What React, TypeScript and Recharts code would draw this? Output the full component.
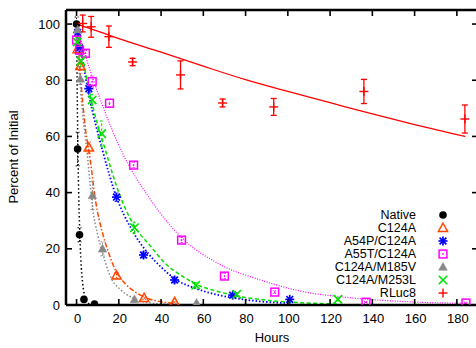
import React from 'react';
import { ComposedChart, Line, Scatter, XAxis, YAxis, ErrorBar, ReferenceLine } from 'recharts';

const FONT = '"Liberation Sans", Arial, Helvetica, sans-serif';

const xTicks = [0, 20, 40, 60, 80, 100, 120, 140, 160, 180];
const yTicks = [0, 20, 40, 60, 80, 100];

const legendNames = ['Native', 'C124A', 'A54P/C124A', 'A55T/C124A', 'C124A/M185V', 'C124A/M253L', 'RLuc8'];

// measured points
const nativeHours = [0, 0.5, 1.4, 3.5, 8.5];
const nativePct = [100, 55.5, 25, 2, 0.3];
const nativeErr = [2.5, 6, 2.5, 0.5, 0.3];

const c124aHours = [0.5, 1.8, 5.8, 18.9, 32, 46.4];
const c124aPct = [91, 85, 56, 10.5, 2.5, 1];
const c124aErr = [1.5, 1.5, 2, 1, 0.5, 0.3];

const a54pHours = [0.5, 1.4, 5.8, 18.9, 31.7, 46.4, 73.9, 100.9];
const a54pPct = [97, 91.5, 77, 38.4, 17.8, 8.9, 3.5, 2];
const a54pErr = [1.5, 1.5, 1.5, 1.5, 1, 1, 0.5, 0.5];

const a55tHours = [0, 1.4, 4.2, 7.4, 15.6, 27, 49.7, 70, 93.8, 137, 184.3];
const a55tPct = [94.3, 90.7, 89.6, 79.5, 71.8, 49.8, 23.1, 10.3, 4.6, 1, 0.7];
const a55tErr = [1.5, 1.5, 1, 2, 1.5, 1, 1, 1, 0.5, 0.3, 0.3];

const m185vHours = [0.5, 1.8, 7.5, 12.3, 27.4, 56.8];
const m185vPct = [98, 80.5, 39, 20, 2, 0.7];
const m185vErr = [1.5, 2, 5, 2.5, 0.5, 0.3];

const m253lHours = [0.3, 2, 7.4, 11.9, 27.4, 56.4, 75.8, 123.7];
const m253lPct = [93.6, 86.8, 73, 61, 27.5, 7, 3.8, 2];
const m253lErr = [1.5, 2, 2, 4.5, 2, 1, 0.5, 0.5];

const rlucHours = [2.9, 6.9, 15.3, 26.5, 49.2, 69.1, 93.3, 136, 183.8];
const rlucPct = [100.2, 99, 95.5, 86.5, 81.9, 71.9, 70.5, 76, 66.2];
const rlucErr = [3, 3.7, 3.8, 1.3, 5, 1.4, 3, 4.3, 5];

// fitted curves
const nativeFitHours = [0, 0.5, 1, 1.5, 2, 2.9, 3.7, 5, 6.5, 8.5];
const nativeFitPct = [100, 63, 40, 26, 16.5, 7.6, 3.6, 1.1, 0.3, 0.05];

const c124aFitHours = [0, 2, 4, 6.4, 9, 12.3, 15, 18.8, 23, 28.2, 33, 37.7, 46.4];
const c124aFitPct = [100, 80, 64, 52, 37, 25.6, 19, 11.8, 7.6, 4.4, 2.5, 1.5, 0.6];

const a54pFitHours = [0, 5.8, 12.3, 18.9, 26, 34.5, 40, 47.3, 56, 65, 73.9, 86.7, 101];
const a54pFitPct = [100, 75, 55, 38.4, 27, 17.8, 13.5, 8.9, 6, 3.9, 2.6, 1.3, 0.65];

const a55tFitHours = [0, 3.7, 12.3, 21.8, 34.5, 49.7, 67.7, 86.7, 105, 129.3, 153, 184.3];
const a55tFitPct = [100, 90, 71, 54, 38, 24, 14.5, 9, 5.1, 2.6, 1.3, 0.6];

const m185vFitHours = [0, 2, 5.3, 7.7, 10, 12.4, 15, 17.2, 21, 26.6, 32, 40, 56.8];
const m185vFitPct = [100, 76, 52, 34, 25, 18.5, 12, 8.5, 5.3, 2.5, 1.1, 0.4, 0.05];

const m253lFitHours = [0, 6, 13.7, 20, 27.4, 34.5, 42, 50, 56.8, 65, 73.9, 90, 105, 124];
const m253lFitPct = [100, 76, 55, 40, 28, 21.4, 14.8, 10.3, 7.3, 5.2, 3.5, 1.7, 0.85, 0.35];

const rlucFitHours = [0, 10, 20, 40, 60, 80, 100, 120, 140, 160, 184];
const rlucFitPct = [100, 97.5, 94.8, 90, 85, 80.2, 76, 72, 68, 64.2, 60];

type Kind = 'circle' | 'triOpen' | 'star' | 'square' | 'triFill' | 'cross' | 'plus';

const toPts = (h: number[], p: number[], e?: number[]) =>
  h.map((x, i) => ({ x, y: p[i], e: e ? e[i] : 0 }));

const series = [
  { name: legendNames[0], kind: 'circle' as Kind, color: '#000000', pts: toPts(nativeHours, nativePct, nativeErr), fit: toPts(nativeFitHours, nativeFitPct), dash: '1.5 2.5', lw: 1.5, errDash: '1.5 1.5' },
  { name: legendNames[1], kind: 'triOpen' as Kind, color: '#FF4500', pts: toPts(c124aHours, c124aPct, c124aErr), fit: toPts(c124aFitHours, c124aFitPct), dash: '5 2 1.5 2', lw: 1.5, errDash: '1.5 1.5' },
  { name: legendNames[2], kind: 'star' as Kind, color: '#0000FF', pts: toPts(a54pHours, a54pPct, a54pErr), fit: toPts(a54pFitHours, a54pFitPct), dash: '1.5 2', lw: 1.8, errDash: '1.5 1.5' },
  { name: legendNames[3], kind: 'square' as Kind, color: '#FF00FF', pts: toPts(a55tHours, a55tPct, a55tErr), fit: toPts(a55tFitHours, a55tFitPct), dash: '1 1.5', lw: 1.2, errDash: '1 1.5' },
  { name: legendNames[4], kind: 'triFill' as Kind, color: '#888888', pts: toPts(m185vHours, m185vPct, m185vErr), fit: toPts(m185vFitHours, m185vFitPct), dash: '1.5 2', lw: 1.5, errDash: '1.5 1.5' },
  { name: legendNames[5], kind: 'cross' as Kind, color: '#00E000', pts: toPts(m253lHours, m253lPct, m253lErr), fit: toPts(m253lFitHours, m253lFitPct), dash: '4 2.5', lw: 1.5, errDash: '3 2' },
  { name: legendNames[6], kind: 'plus' as Kind, color: '#FF0000', pts: toPts(rlucHours, rlucPct, rlucErr), fit: toPts(rlucFitHours, rlucFitPct), dash: undefined as string | undefined, lw: 1.3, errDash: undefined as string | undefined },
];

function Marker({ kind, cx, cy, color }: { kind: Kind; cx: number; cy: number; color: string }) {
  if (cx == null || cy == null || isNaN(cx) || isNaN(cy)) return null;
  switch (kind) {
    case 'circle':
      return <circle cx={cx} cy={cy} r={3.8} fill={color} />;
    case 'triOpen':
      return <polygon points={`${cx},${cy - 4.8} ${cx - 4.6},${cy + 3.4} ${cx + 4.6},${cy + 3.4}`} fill="none" stroke={color} strokeWidth={1.5} />;
    case 'triFill':
      return <polygon points={`${cx},${cy - 4.5} ${cx - 4.3},${cy + 3.3} ${cx + 4.3},${cy + 3.3}`} fill={color} stroke={color} strokeWidth={0.5} />;
    case 'star':
      return (
        <g stroke={color} strokeWidth={1.7}>
          <line x1={cx - 4.5} y1={cy} x2={cx + 4.5} y2={cy} />
          <line x1={cx} y1={cy - 4.5} x2={cx} y2={cy + 4.5} />
          <line x1={cx - 3.4} y1={cy - 3.4} x2={cx + 3.4} y2={cy + 3.4} />
          <line x1={cx - 3.4} y1={cy + 3.4} x2={cx + 3.4} y2={cy - 3.4} />
        </g>
      );
    case 'square':
      return (
        <g>
          <rect x={cx - 3.9} y={cy - 3.9} width={7.8} height={7.8} fill="none" stroke={color} strokeWidth={1.5} />
          <circle cx={cx} cy={cy} r={0.9} fill={color} />
        </g>
      );
    case 'cross':
      return (
        <g stroke={color} strokeWidth={1.6}>
          <line x1={cx - 4.2} y1={cy - 4.2} x2={cx + 4.2} y2={cy + 4.2} />
          <line x1={cx - 4.2} y1={cy + 4.2} x2={cx + 4.2} y2={cy - 4.2} />
        </g>
      );
    case 'plus':
    default:
      return (
        <g stroke={color} strokeWidth={1.4}>
          <line x1={cx - 4.5} y1={cy} x2={cx + 4.5} y2={cy} />
          <line x1={cx} y1={cy - 4.5} x2={cx} y2={cy + 4.5} />
        </g>
      );
  }
}

const CHART_W = 480;
const CHART_H = 348;
const MARGIN = { top: 10, right: 2, bottom: 0, left: 0 };
const PLOT_TOP = MARGIN.top;
const PLOT_RIGHT = CHART_W - MARGIN.right;
const TICK_LEN = 6;

const tickText = { fontFamily: FONT, fontSize: 13, fill: '#000' };

// bottom tick: draws the inward tick on the bottom frame and its mirror on the top frame
const BottomTick = (p: any) => (
  <g>
    <line x1={p.x} x2={p.x} y1={p.y} y2={p.y - TICK_LEN} stroke="#000" strokeWidth={1.6} />
    <line x1={p.x} x2={p.x} y1={PLOT_TOP} y2={PLOT_TOP + TICK_LEN} stroke="#000" strokeWidth={1.6} />
    <text x={p.x + 1} y={p.y + 18} textAnchor="middle" style={tickText}>{p.payload.value}</text>
  </g>
);
// left tick: inward tick on the left frame and its mirror on the right frame
const LeftTick = (p: any) => (
  <g>
    <line x1={p.x} x2={p.x + TICK_LEN} y1={p.y} y2={p.y} stroke="#000" strokeWidth={1.6} />
    <line x1={PLOT_RIGHT} x2={PLOT_RIGHT - TICK_LEN} y1={p.y} y2={p.y} stroke="#000" strokeWidth={1.6} />
    <text x={p.x - 6} y={p.y + 4.5} textAnchor="end" style={tickText}>{p.payload.value}</text>
  </g>
);

const axisLine = { stroke: '#000', strokeWidth: 2.5 };

export default function App() {
  return (
    <div style={{ position: 'absolute', left: 0, top: 0, width: 476, height: 348, overflow: 'hidden', background: '#fff' }}>
      <ComposedChart width={CHART_W} height={CHART_H} margin={MARGIN}>
        <XAxis dataKey="x" type="number" domain={[-5, 190]} allowDataOverflow ticks={xTicks} interval={0}
          height={43} tickSize={0} tickMargin={0} tickLine={false} axisLine={axisLine} tick={BottomTick} />
        <YAxis type="number" domain={[0, 105]} allowDataOverflow ticks={yTicks} interval={0}
          width={66} tickSize={0} tickMargin={0} tickLine={false} axisLine={axisLine} tick={LeftTick} />
        <ReferenceLine y={105} stroke="#000" strokeWidth={2.5} ifOverflow="visible" />
        <ReferenceLine x={190} stroke="#000" strokeWidth={2.5} ifOverflow="visible" />
        {series.map((s) => (
          <Line key={'fit-' + s.name} data={s.fit} dataKey="y" type="monotone" stroke={s.color} strokeWidth={s.lw}
            strokeDasharray={s.dash} dot={false} activeDot={false} isAnimationActive={false} legendType="none" />
        ))}
        {series.map((s) => (
          <Scatter key={'pts-' + s.name} data={s.pts} dataKey="y" isAnimationActive={false}
            shape={(p: any) => <Marker kind={s.kind} cx={p.cx} cy={p.cy} color={s.color} />}>
            <ErrorBar dataKey="e" direction="y" width={s.kind === 'plus' ? 3 : 2} stroke={s.color}
              strokeWidth={s.kind === 'plus' ? 1.3 : 1} strokeDasharray={s.errDash} />
          </Scatter>
        ))}
      </ComposedChart>
      <svg width={476} height={348} style={{ position: 'absolute', left: 0, top: 0, pointerEvents: 'none' }}>
        <text x={0} y={0} transform="translate(17.5,157) rotate(-90)" textAnchor="middle" style={{ fontFamily: FONT, fontSize: 13, fill: '#000' }}>
          Percent of Initial
        </text>
        <text x={272} y={342} textAnchor="middle" style={{ fontFamily: FONT, fontSize: 13, fill: '#000' }}>Hours</text>
        {series.map((s, i) => {
          const cy = 215 + i * 13;
          return (
            <g key={'leg-' + s.name}>
              <text x={416} y={cy + 4.3} textAnchor="end" style={{ fontFamily: FONT, fontSize: 12.5, fill: '#000' }}>{s.name}</text>
              <Marker kind={s.kind} cx={443} cy={cy} color={s.color} />
            </g>
          );
        })}
      </svg>
    </div>
  );
}
